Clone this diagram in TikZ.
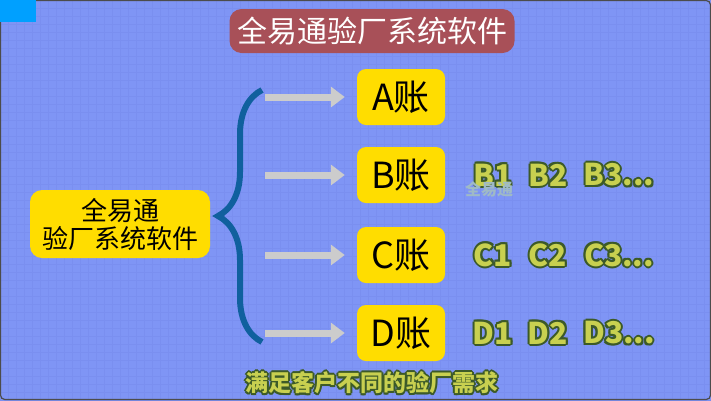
\documentclass[tikz,border=0pt]{standalone}
\usepackage{fontspec}
\setmainfont{Noto Sans CJK SC}
\usetikzlibrary{positioning,calc,decorations.pathreplacing,arrows.meta}
\definecolor{bgblue}{HTML}{7F95F5}
\definecolor{gridblue}{HTML}{7A8FF0}
\definecolor{titlered}{HTML}{A85058}
\definecolor{boxyellow}{HTML}{FFDD00}
\definecolor{braceblue}{HTML}{10609E}
\definecolor{labfill}{HTML}{C8D050}
\definecolor{labline}{HTML}{3C5A28}
\definecolor{cornerblue}{HTML}{00A0FF}
\tikzset{
  acct/.style={fill=boxyellow, rounded corners=9pt, minimum width=88pt, minimum height=56pt, font=\fontsize{36}{36}\selectfont},
  feed/.style={draw=gray!40, line width=7pt, -{Triangle[length=14pt,width=20pt]}},
}
% outlined text
\newcommand\olt[3]{%
  \foreach \dx/\dy in {2/0,-2/0,0/2,0/-2,1.4/1.4,-1.4/1.4,1.4/-1.4,-1.4/-1.4}
    \node[text=labline, font=#3\bfseries] at ($(#1)+(\dx pt,\dy pt)$) {#2};
  \node[text=labfill, font=#3\bfseries] at (#1) {#2};
}
\begin{document}
\begin{tikzpicture}[x=1pt,y=-1pt]
\useasboundingbox (0,0) rectangle (711,400);
\fill[bgblue] (0,0) rectangle (711,400);
\draw[gridblue, line width=0.5pt, step=8pt] (0,0) grid (711,400);
\draw[black!70, line width=1.2pt, rounded corners=4pt] (0.6,0.6) rectangle (710.4,399.4);
\fill[cornerblue] (0,0) rectangle (36,22);

\node[fill=titlered, text=white, rounded corners=12pt, minimum width=285pt, minimum height=44pt,
  font=\fontsize{30}{30}\selectfont] (title) at (372,31) {全易通验厂系统软件};

\node[fill=boxyellow, rounded corners=12pt, minimum width=180pt, minimum height=68pt, align=center,
  font=\fontsize{26}{28}\selectfont] (soft) at (120,224) {全易通\\验厂系统软件};

\coordinate (btop) at (262,90);
\coordinate (bbot) at (262,342);
\draw[braceblue, line width=6pt, decorate, decoration={brace, amplitude=44pt, mirror, aspect=0.5}] (btop) -- (bbot);

\foreach \n/\y in {A/97,B/175,C/255,D/333} {
  \node[acct] (\n) at (401,\y) {\n 账};
  \coordinate (s\n) at (265,\y);
  \draw[feed] (s\n) -- ($(\n.west)+(-12pt,0)$);
}

\foreach \r/\y in {B/175,C/255,D/333} {
  \olt{493,\y}{\r1}{\fontsize{30}{30}\selectfont}
  \olt{548,\y}{\r2}{\fontsize{30}{30}\selectfont}
  \olt{619,\y}{\r3...}{\fontsize{30}{30}\selectfont}
}
\node[text=cyan!30!gray!70, font=\fontsize{16}{16}\selectfont\bfseries] (mark) at (489,189) {全易通};

\olt{372,383}{满足客户不同的验厂需求}{\fontsize{23}{23}\selectfont}
\end{tikzpicture}
\end{document}
